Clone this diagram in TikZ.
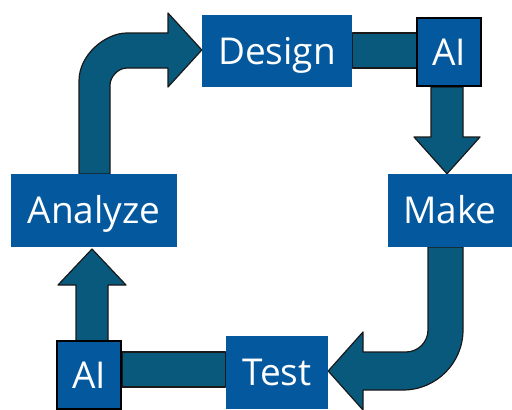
\documentclass[tikz,border=0pt]{standalone}
\usepackage{fontspec}
\setmainfont{Open Sans}
\pgfdeclarelayer{background}
\pgfsetlayers{background,main}
\definecolor{boxblue}{HTML}{04589E}
\definecolor{arrowteal}{HTML}{09597D}
\tikzset{
  stagebox/.style={fill=boxblue, text=white, inner sep=0pt, font=\fontsize{37}{40}\selectfont, text height=26.4pt, text depth=0pt},
  aibox/.style={stagebox, draw=black, line width=1.8pt},
  blockarrow/.style={fill=arrowteal, draw=black!90, line width=1.2pt, line join=round}
}
\begin{document}
\begin{tikzpicture}[x=1pt,y=-1pt]
\useasboundingbox (0,0) rectangle (512,410);
% nodes
\node[stagebox, minimum width=150pt, minimum height=72pt] (design) at (277,51) {Design};
\node[aibox, minimum width=64pt, minimum height=68pt] (aitop) at (449,52) {AI};
\node[stagebox, minimum width=124pt, minimum height=73pt] (make) at (450,210.5) {Make};
\node[stagebox, minimum width=166pt, minimum height=73pt] (analyze) at (94,210.5) {Analyze};
\node[stagebox, minimum width=102pt, minimum height=73pt] (test) at (277,372.5) {Test};
\node[aibox, minimum width=64pt, minimum height=68pt] (aibot) at (89,375) {AI};
\begin{pgfonlayer}{background}
% Design -> AI bar
\draw[blockarrow] (design.east |- 0,33) rectangle (aitop.west |- 0,68);
% AI -> Make arrow
\draw[blockarrow] (431,87) -- (431,137) -- (414,137) -- (make.north -| 447,0) -- (480,137) -- (463,137) -- (463,87) -- cycle;
% Make -> Test curved arrow
\draw[blockarrow] (428,247) -- (428,330) .. controls (428,342.1) and (418.1,352) .. (406,352)
  -- (363,352) -- (363,332) -- (test.east |- 0,371) -- (363,410) -- (363,390) -- (403,390)
  .. controls (436.1,390) and (463,363.1) .. (463,330) -- (463,247) -- cycle;
% Test -> AI bar
\draw[blockarrow] (aibot.east |- 0,352) rectangle (test.west |- 0,387);
% AI -> Analyze arrow
\draw[blockarrow] (76,341) -- (76,285) -- (58,285) -- (92,249) -- (126,285) -- (108,285) -- (108,341) -- cycle;
% Analyze -> Design curved arrow
\draw[blockarrow] (79,174) -- (79,81) .. controls (79,54.5) and (105.5,33) .. (127,33)
  -- (168,33) -- (168,13) -- (design.west |- 0,50) -- (168,87) -- (168,68) -- (127,68)
  .. controls (117.6,68) and (110,77.4) .. (110,85) -- (110,174) -- cycle;
\end{pgfonlayer}
\end{tikzpicture}
\end{document}
